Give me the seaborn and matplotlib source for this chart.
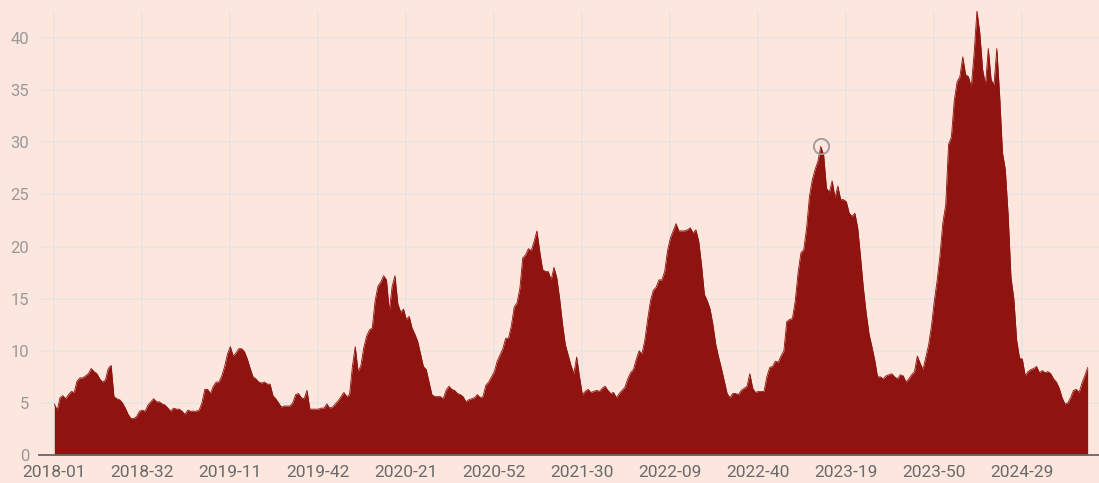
import numpy as np
import pandas as pd
import matplotlib
matplotlib.use("Agg")
import matplotlib.pyplot as plt
import seaborn as sns

# ---------------- data ----------------
years = [2018, 2019, 2020, 2021, 2022, 2023, 2024]
weeks_in_year = [52, 52, 53, 52, 52, 52, 52]

v2018 = [4.9, 4.3, 5.5, 5.7, 5.4, 5.8, 6.1, 6.0, 7.1, 7.4,
         7.4, 7.6, 7.8, 8.3, 8.0, 7.8, 7.3, 7.0, 7.2, 8.3,
         8.6, 5.6, 5.4, 5.3, 5.0, 4.5, 3.9, 3.5, 3.5, 3.7,
         4.2, 4.3, 4.2, 4.8, 5.1, 5.4, 5.1, 5.1, 4.9, 4.8,
         4.5, 4.2, 4.5, 4.4, 4.4, 4.2, 3.9, 4.3, 4.2, 4.2,
         4.2, 4.3]
v2019 = [5.0, 6.3, 6.3, 5.9, 6.6, 7.0, 7.0, 7.6, 8.5, 9.7,
         10.4, 9.5, 9.8, 10.2, 10.2, 9.9, 9.2, 8.3, 7.5, 7.3,
         7.0, 6.9, 7.0, 6.8, 6.8, 5.7, 5.4, 5.0, 4.6, 4.7,
         4.7, 4.7, 5.0, 5.8, 5.9, 5.5, 5.4, 6.2, 4.4, 4.4,
         4.4, 4.4, 4.5, 4.5, 4.9, 4.5, 4.6, 4.9, 5.2, 5.6,
         6.0, 5.6]
v2020 = [5.8, 8.5, 10.4, 8.0, 8.6, 10.3, 11.4, 12.0, 12.2, 14.8,
         16.2, 16.6, 17.2, 16.8, 13.8, 16.2, 17.2, 14.5, 13.7, 14.0,
         13.0, 13.3, 12.2, 11.6, 10.9, 9.7, 8.5, 8.2, 7.0, 5.8,
         5.6, 5.6, 5.6, 5.4, 6.2, 6.6, 6.3, 6.2, 5.9, 5.8,
         5.6, 5.1, 5.3, 5.4, 5.5, 5.8, 5.5, 5.6, 6.7, 7.0,
         7.5, 8.0, 9.0]
v2021 = [9.6, 10.2, 11.2, 11.2, 12.4, 14.2, 14.6, 16.0, 18.9, 19.2,
         19.8, 19.6, 20.5, 21.5, 19.5, 17.8, 17.6, 17.6, 16.8, 18.0,
         17.0, 15.0, 12.6, 10.6, 9.6, 8.6, 7.8, 9.4, 7.5, 5.8,
         6.1, 6.3, 6.0, 6.1, 6.2, 6.1, 6.4, 6.6, 6.2, 5.9,
         6.0, 5.5, 5.9, 6.2, 6.5, 7.3, 7.9, 8.2, 9.2, 10.0,
         9.7, 11.0]
v2022 = [13.0, 14.8, 15.8, 16.1, 16.8, 16.8, 17.6, 19.6, 20.8, 21.5,
         22.2, 21.5, 21.5, 21.5, 21.6, 21.8, 21.3, 21.6, 20.5, 18.2,
         15.4, 14.8, 14.0, 12.5, 10.6, 9.4, 8.3, 7.1, 5.9, 5.5,
         5.9, 5.9, 5.8, 6.2, 6.4, 6.6, 7.8, 6.4, 6.0, 6.1,
         6.1, 6.1, 7.5, 8.4, 8.5, 9.0, 8.9, 9.5, 10.0, 12.8,
         13.0, 13.1]
v2023 = [14.8, 17.5, 19.4, 19.7, 21.8, 24.8, 26.4, 27.4, 28.2, 29.6,
         28.8, 25.6, 25.2, 26.3, 24.7, 25.8, 24.5, 24.5, 24.3, 23.2,
         22.9, 23.2, 21.8, 19.0, 16.0, 13.6, 11.6, 10.4, 9.1, 7.5,
         7.5, 7.3, 7.6, 7.7, 7.8, 7.5, 7.3, 7.7, 7.6, 7.0,
         7.3, 7.7, 8.0, 9.5, 8.8, 8.2, 9.4, 10.6, 12.4, 14.8,
         16.8, 19.2]
v2024 = [22.3, 24.0, 29.8, 30.5, 34.0, 35.8, 36.3, 38.2, 36.5, 36.3,
         35.3, 38.5, 42.6, 40.5, 37.0, 35.5, 39.0, 36.0, 35.5, 39.0,
         34.5, 29.0, 27.4, 23.0, 17.0, 15.0, 11.0, 9.3, 9.2, 7.6,
         8.0, 8.2, 8.3, 8.5, 7.9, 8.1, 7.9, 8.0, 7.8, 7.3,
         7.0, 6.4, 5.5, 4.9, 5.0, 5.5, 6.2, 6.3, 6.0, 6.9,
         7.6, 8.4]

values = v2018 + v2019 + v2020 + v2021 + v2022 + v2023 + v2024
week_labels = [f"{y}-{w:02d}" for y, n in zip(years, weeks_in_year) for w in range(1, n + 1)]
highlight_label = "2023-10"

df = pd.DataFrame({"week": week_labels, "value": values})
df["pos"] = np.arange(len(df))

# ---------------- style ----------------
BG = "#fde6dd"
FILL = "#8f130f"
GRID = "#ebe4e2"

sns.set_theme(style="white")
plt.rcParams["font.family"] = ["Roboto", "DejaVu Sans"]

fig = plt.figure(figsize=(10.99, 4.83), dpi=100, facecolor=BG)
ax = fig.add_axes([39 / 1099, 28 / 483, 1060 / 1099, 444 / 483])
ax.set_facecolor(BG)

ax.fill_between(df["pos"], 0, df["value"], color=FILL, lw=0, zorder=2)
sns.lineplot(data=df, x="pos", y="value", color=FILL, lw=0.6, ax=ax, zorder=3)

hp = df.loc[df["week"] == highlight_label]
ax.plot(hp["pos"], hp["value"], marker="o", ms=11, mfc="none", mec="#a09a98",
        mew=1.3, ls="none", zorder=4)

ax.set_xlim(-5.4, 368)
ax.set_ylim(0, 42.6)
ax.set_yticks(np.arange(0, 41, 5))
ax.set_xticks(df["pos"].values[::31])
ax.set_xticklabels(df["week"].values[::31])

ax.grid(True, color=GRID, lw=1.3, zorder=0)
ax.set_axisbelow(True)
for s in ["top", "right", "left"]:
    ax.spines[s].set_visible(False)
ax.spines["bottom"].set_color("#666666")
ax.spines["bottom"].set_linewidth(1.3)
ax.spines["bottom"].set_zorder(5)

ax.tick_params(axis="both", length=0)
ax.tick_params(axis="y", pad=7, labelsize=12, colors="#999999")
ax.tick_params(axis="x", pad=7, labelsize=12.5, colors="#6a6a6a")
ax.set_xlabel("")
ax.set_ylabel("")

fig.savefig("out.png", dpi=100, facecolor=BG)
